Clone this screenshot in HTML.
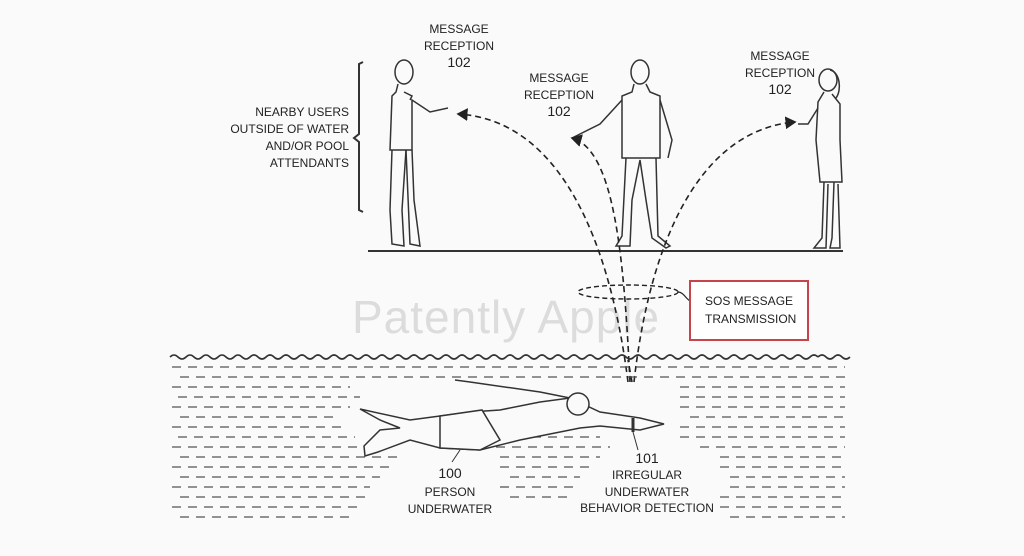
<!DOCTYPE html>
<html><head><meta charset="utf-8"><style>
html,body{margin:0;padding:0;background:#fafafa;}
svg{display:block}
text{font-family:"Liberation Sans",Arial,sans-serif;fill:#222;}
</style></head><body>
<svg width="1024" height="556" viewBox="0 0 1024 556" xmlns="http://www.w3.org/2000/svg">
<rect width="1024" height="556" fill="#fafafa"/>
<defs>
<marker id="ah" markerWidth="8" markerHeight="8" refX="6" refY="4" orient="auto"><path d="M0,0 L7,4 L0,8 z" fill="#222"/></marker>
</defs>
<text x="352" y="333" font-size="46" style="fill:#dcdcdc" letter-spacing="1">Patently Apple</text>
<line x1="368" y1="251" x2="843" y2="251" stroke="#333" stroke-width="2"/>
<path d="M363,62 L359,64 L359,134 L354,138 L359,142 L359,210 L363,212" fill="none" stroke="#333" stroke-width="2"/>
<g font-size="12" text-anchor="end">
<text x="349" y="116">NEARBY USERS</text>
<text x="349" y="133">OUTSIDE OF WATER</text>
<text x="349" y="150">AND/OR POOL</text>
<text x="349" y="167">ATTENDANTS</text>
</g>
<g font-size="12" text-anchor="middle">
<text x="459" y="33">MESSAGE</text><text x="459" y="50">RECEPTION</text><text x="459" y="67" font-size="14">102</text>
<text x="559" y="82">MESSAGE</text><text x="559" y="99">RECEPTION</text><text x="559" y="116" font-size="14">102</text>
<text x="780" y="60">MESSAGE</text><text x="780" y="77">RECEPTION</text><text x="780" y="94" font-size="14">102</text>
<text x="450" y="478" font-size="14">100</text><text x="450" y="496">PERSON</text><text x="450" y="513">UNDERWATER</text>
<text x="647" y="463" font-size="14">101</text><text x="647" y="479">IRREGULAR</text><text x="647" y="496">UNDERWATER</text><text x="647" y="512">BEHAVIOR DETECTION</text>
</g>
<g fill="none" stroke="#333" stroke-width="1.5">
<ellipse cx="404" cy="72" rx="9" ry="12"/>
<path d="M398,84 L396,92 L392,96 L390,150 L412,150 L412,100 L430,112 L448,108"/>
<path d="M392,150 L390,210 L392,244 L404,246 L402,210 L406,150"/>
<path d="M406,150 L410,244 L420,246 L414,200 L412,150"/>
<path d="M410,100 L412,96 L404,92"/>
</g>
<g fill="none" stroke="#333" stroke-width="1.5">
<ellipse cx="640" cy="72" rx="9" ry="12"/>
<path d="M634,84 L632,92 L622,96 L622,158 L660,158 L660,96 L650,92 L646,84"/>
<path d="M622,100 L600,124 L572,138"/>
<path d="M660,100 L672,140 L668,158"/>
<path d="M626,158 L622,236 L616,246 L630,246 L632,200 L640,160 L646,200 L652,238 L666,248 L670,246 L658,236 L656,158"/>
</g>
<g fill="none" stroke="#333" stroke-width="1.5">
<ellipse cx="828" cy="80" rx="9" ry="11"/>
<path d="M830,70 C840,72 842,90 836,98"/>
<path d="M824,92 L818,102 L816,140 L820,182 L842,182 L840,140 L840,104 L832,94"/>
<path d="M818,108 L808,124 L798,124"/>
<path d="M824,182 L822,238 L814,248 L826,248 L828,184"/>
<path d="M834,182 L832,238 L830,248 L840,248 L838,184"/>
</g>
<g fill="none" stroke="#222" stroke-width="1.6" stroke-dasharray="6,4">
<path d="M628,382 C610,240 560,120 458,114" marker-end="url(#ah)"/>
<path d="M630,382 C624,260 615,150 572,138" marker-end="url(#ah)"/>
<path d="M634,382 C650,240 700,130 795,122" marker-end="url(#ah)"/>
<path d="M632,382 L628,360" />
</g>
<ellipse cx="628" cy="292" rx="50" ry="7" fill="none" stroke="#222" stroke-width="1.4" stroke-dasharray="5,3"/>
<path d="M678,292 C684,292 686,300 692,302" fill="none" stroke="#222" stroke-width="1.2"/>
<rect x="690" y="281" width="118" height="59" fill="#fff" stroke="#c8444c" stroke-width="2"/>
<text x="705" y="305" font-size="12">SOS MESSAGE</text>
<text x="705" y="323" font-size="12">TRANSMISSION</text>
<g fill="none" stroke="#333" stroke-width="1.6">
<path d="M170,357 q4,-4 8,0 t8,0 t8,0 t8,0 t8,0 t8,0 t8,0 t8,0 t8,0 t8,0 t8,0 t8,0 t8,0 t8,0 t8,0 t8,0 t8,0 t8,0 t8,0 t8,0 t8,0 t8,0 t8,0 t8,0 t8,0 t8,0 t8,0 t8,0 t8,0 t8,0 t8,0 t8,0 t8,0 t8,0 t8,0 t8,0 t8,0 t8,0 t8,0 t8,0 t8,0 t8,0 t8,0 t8,0 t8,0 t8,0 t8,0 t8,0 t8,0 t8,0 t8,0 t8,0 t8,0 t8,0 t8,0 t8,0 t8,0 t8,0 t8,0 t8,0 t8,0 t8,0 t8,0 t8,0 t8,0 t8,0 t8,0 t8,0 t8,0 t8,0 t8,0 t8,0 t8,0 t8,0 t8,0 t8,0 t8,0 t8,0 t8,0 t8,0 t8,0"/>
<path d="M818,357 q4,-4 8,0 t8,0 t8,0 t8,0"/>
</g>
<g stroke="#555" stroke-width="1.3" stroke-dasharray="9,7">
<line x1="172" y1="367" x2="845" y2="367"/>
<line x1="180" y1="377" x2="845" y2="377"/>
<line x1="172" y1="387" x2="350" y2="387"/><line x1="680" y1="387" x2="845" y2="387"/>
<line x1="178" y1="397" x2="360" y2="397"/><line x1="680" y1="397" x2="845" y2="397"/>
<line x1="172" y1="407" x2="350" y2="407"/><line x1="680" y1="407" x2="845" y2="407"/>
<line x1="180" y1="417" x2="340" y2="417"/><line x1="690" y1="417" x2="845" y2="417"/>
<line x1="172" y1="427" x2="345" y2="427"/><line x1="680" y1="427" x2="845" y2="427"/>
<line x1="178" y1="437" x2="355" y2="437"/><line x1="500" y1="437" x2="600" y2="437"/><line x1="680" y1="437" x2="845" y2="437"/>
<line x1="172" y1="447" x2="380" y2="447"/><line x1="480" y1="447" x2="610" y2="447"/><line x1="700" y1="447" x2="845" y2="447"/>
<line x1="180" y1="457" x2="400" y2="457"/><line x1="500" y1="457" x2="600" y2="457"/><line x1="720" y1="457" x2="845" y2="457"/>
<line x1="172" y1="467" x2="390" y2="467"/><line x1="500" y1="467" x2="590" y2="467"/><line x1="720" y1="467" x2="845" y2="467"/>
<line x1="180" y1="477" x2="380" y2="477"/><line x1="510" y1="477" x2="580" y2="477"/><line x1="730" y1="477" x2="845" y2="477"/>
<line x1="172" y1="487" x2="370" y2="487"/><line x1="500" y1="487" x2="580" y2="487"/><line x1="730" y1="487" x2="845" y2="487"/>
<line x1="180" y1="497" x2="365" y2="497"/><line x1="510" y1="497" x2="570" y2="497"/><line x1="720" y1="497" x2="845" y2="497"/>
<line x1="172" y1="507" x2="360" y2="507"/><line x1="720" y1="507" x2="845" y2="507"/>
<line x1="180" y1="517" x2="355" y2="517"/><line x1="730" y1="517" x2="845" y2="517"/>
</g>
<g fill="#fafafa" stroke="#333" stroke-width="1.5">
<path d="M360,409 L410,420 L440,416 L470,412 L500,410 L540,402 L570,398 L600,412 L640,418 L664,424 L640,430 L600,426 L580,428 L520,440 L480,450 L440,448 L410,440 L378,452 L365,456 L364,446 L380,430 L400,428 L380,420 Z"/>
<path d="M455,380 L470,382 L540,392 L570,398" fill="none"/>
<circle cx="578" cy="404" r="11"/>
<path d="M440,416 L482,410 L500,440 L480,450 L440,448 Z"/>
<line x1="633" y1="418" x2="633" y2="432" stroke-width="3"/>
<path d="M633,432 L638,450" fill="none" stroke-width="1"/>
<path d="M460,450 L452,462" fill="none" stroke-width="1"/>
</g>
</svg>
</body></html>
